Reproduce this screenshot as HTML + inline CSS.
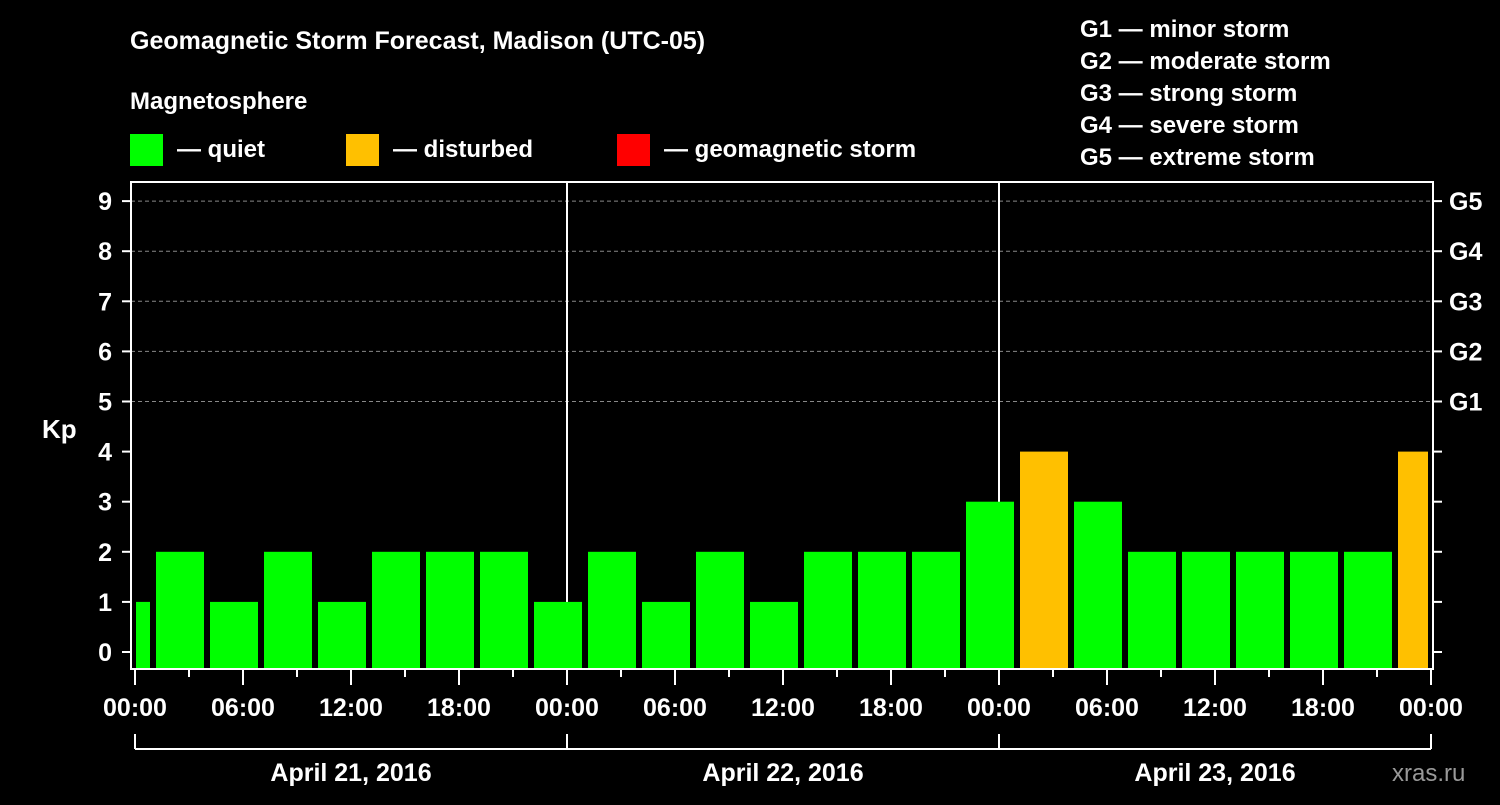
<!DOCTYPE html>
<html><head><meta charset="utf-8"><style>
body{margin:0;background:#000;width:1500px;height:800px;overflow:hidden}
svg{font-family:"Liberation Sans",Arial,sans-serif;font-weight:bold;fill:#fff}
</style></head><body>
<svg id="c" width="1500" height="800">
<text x="130" y="49" font-size="25">Geomagnetic Storm Forecast, Madison (UTC-05)</text>
<text x="130" y="109" font-size="24">Magnetosphere</text>
<g><rect x="130" y="134" width="33" height="32" fill="#00ff00"/><text x="177" y="157" font-size="24">— quiet</text></g>
<g><rect x="346" y="134" width="33" height="32" fill="#ffc000"/><text x="393" y="157" font-size="24">— disturbed</text></g>
<g><rect x="617" y="134" width="33" height="32" fill="#ff0000"/><text x="664" y="157" font-size="24">— geomagnetic storm</text></g>
<g font-size="24">
<text x="1080" y="37">G1 — minor storm</text>
<text x="1080" y="69">G2 — moderate storm</text>
<text x="1080" y="101">G3 — strong storm</text>
<text x="1080" y="133">G4 — severe storm</text>
<text x="1080" y="165">G5 — extreme storm</text>
</g>
<text x="42" y="438" font-size="26">Kp</text>
<text x="1392" y="781" font-size="24" fill="#999" style="fill:#999" font-weight="normal">xras.ru</text>
<g id="plot"></g>
</svg>
<script>
const kpValues=[1,2,1,2,1,2,2,2,1,2,1,2,1,2,2,2,3,4,3,2,2,2,2,2,4];
const yTicks=[0,1,2,3,4,5,6,7,8,9];
const gLabels=["G1","G2","G3","G4","G5"];
const xTickLabels=["00:00","06:00","12:00","18:00","00:00","06:00","12:00","18:00","00:00","06:00","12:00","18:00","00:00"];
const dayLabels=["April 21, 2016","April 22, 2016","April 23, 2016"];
const NS="http://www.w3.org/2000/svg";
const plot=document.getElementById('plot');
const L=131,R=1433,T=182,B=669,X0=135,PXH=18;
const y=k=>652-50.1*k;
const x=h=>X0+h*PXH;
function mk(t,a){const e=document.createElementNS(NS,t);for(const k in a)e.setAttribute(k,a[k]);plot.appendChild(e);return e;}
// grid
for(let k=5;k<=9;k++){const g=mk('line',{x1:L,x2:R,y1:y(k),y2:y(k),stroke:'#888','stroke-dasharray':'4,3','stroke-width':1});

}
// day separators
for(let d=1;d<3;d++){const s=mk('line',{x1:x(24*d),x2:x(24*d),y1:T,y2:B,stroke:'#fff','stroke-width':2});

}
// bars: each bar spans 3h starting at 22:00 prev day
kpValues.forEach((v,i)=>{
 let a=x(-2+3*i)+3,b=x(1+3*i)-3;
 a=Math.max(a,X0+1);b=Math.min(b,x(72)-3);
 const r=mk('rect',{x:a,y:y(v),width:b-a,height:B-y(v),fill:v>=5?'#ff0000':(v>=4?'#ffc000':'#00ff00')});
 
 
});
// frame
const f=mk('rect',{x:L,y:T,width:R-L,height:B-T,fill:'none',stroke:'#fff','stroke-width':2});


// y ticks
yTicks.forEach(k=>{
 mk('line',{x1:122,x2:L,y1:y(k),y2:y(k),stroke:'#fff','stroke-width':2});
 mk('line',{x1:R,x2:1442,y1:y(k),y2:y(k),stroke:'#fff','stroke-width':2});
 const t=mk('text',{x:112,y:y(k)+9,'font-size':25,'text-anchor':'end'});t.textContent=k;
 
 
});
gLabels.forEach((g,i)=>{const t=mk('text',{x:1449,y:y(5+i)+9,'font-size':25});t.textContent=g;
 
 });
// x ticks
for(let h=0;h<=72;h+=3){const maj=h%6==0;mk('line',{x1:x(h),x2:x(h),y1:B,y2:maj?685:677,stroke:'#fff','stroke-width':2});}
xTickLabels.forEach((l,i)=>{const t=mk('text',{x:x(6*i),y:716,'font-size':25,'text-anchor':'middle'});t.textContent=l;
 
 });
// day bracket
mk('line',{x1:x(0),x2:x(72),y1:749,y2:749,stroke:'#fff','stroke-width':2});
for(let d=0;d<=3;d++)mk('line',{x1:x(24*d),x2:x(24*d),y1:734,y2:749,stroke:'#fff','stroke-width':2});
dayLabels.forEach((l,i)=>{const t=mk('text',{x:x(24*i+12),y:781,'font-size':25,'text-anchor':'middle'});t.textContent=l;
 
 });
</script>
</body></html>
